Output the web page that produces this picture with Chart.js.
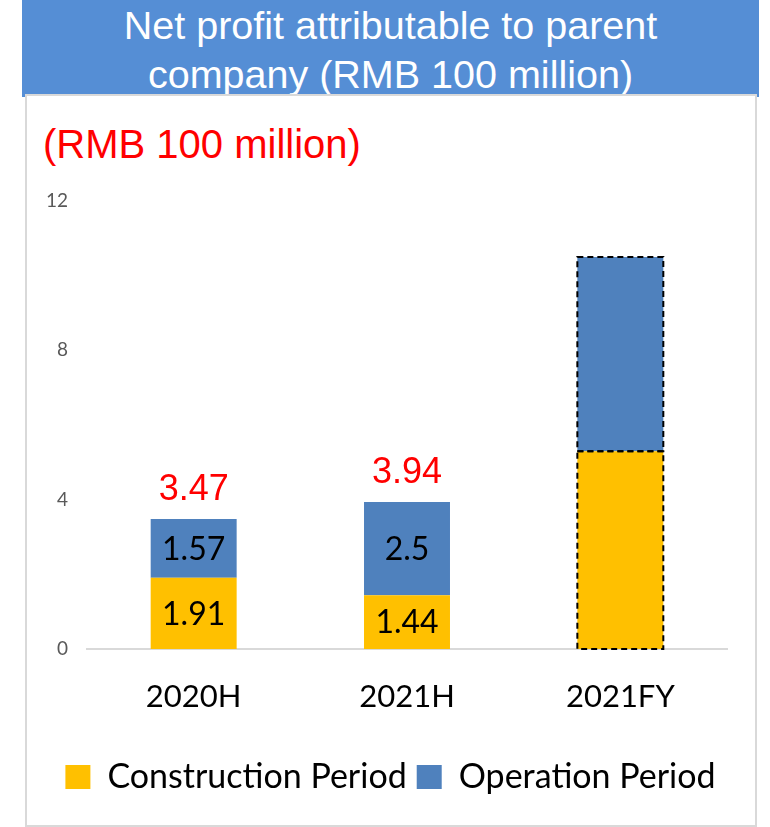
<!DOCTYPE html>
<html>
<head>
<meta charset="utf-8">
<script src="https://cdn.jsdelivr.net/npm/chart.js@4/dist/chart.umd.min.js"></script>
<style>
  html, body { margin: 0; padding: 0; background: #fff; }
  #banner {
    position: absolute; left: 22px; top: 0; width: 737px; height: 97px;
    background: #558ed5; color: #fff; text-align: center;
    font-family: "Liberation Sans", Arial, sans-serif; font-size: 39.5px; line-height: 49px;
    box-sizing: border-box; padding-top: 1px;
  }
  #box {
    position: absolute; left: 25px; top: 94px; width: 728px; height: 729px;
    border: 2px solid #d9d9d9; background: #fff;
  }
  #unit {
    position: absolute; left: 43px; top: 122px;
    font-family: "Liberation Sans", Arial, sans-serif; font-size: 40px; color: #ff0000;
  }
  #c { position: absolute; left: 0; top: 0; }
</style>
</head>
<body>
<div id="banner">Net profit attributable to parent<br>company (RMB 100 million)</div>
<div id="box"></div>
<div id="unit">(RMB 100 million)</div>
<canvas id="c" width="770" height="827"></canvas>
<script>
// values, RMB 100 million
var periods = ['2020H', '2021H', '2021FY'];
var construction = [1.91, 1.44, 5.3];
var operation = [1.57, 2.5, 5.2];
var totals = [3.47, 3.94, null];
var forecastIndex = 2; // 2021FY drawn with dashed outline, no labels

var labelPlugin = {
    id: 'barLabels',
    afterLayout: function (chart) {
        // legend sits a bit right of the plot centre in the original
        chart.legend.left += 17;
        chart.legend.right += 17;
    },
    afterDatasetsDraw: function (chart) {
        var ctx = chart.ctx;
        ctx.save();

        // dashed outline around the forecast stack
        ctx.setLineDash([6, 4]);
        ctx.lineWidth = 2;
        ctx.strokeStyle = '#000';
        chart.data.datasets.forEach(function (ds, di) {
            var bar = chart.getDatasetMeta(di).data[forecastIndex];
            ctx.strokeRect(bar.x - bar.width / 2, bar.y, bar.width, bar.base - bar.y);
        });
        ctx.setLineDash([]);

        // segment values
        ctx.font = '32px Lato';
        ctx.fillStyle = '#000';
        ctx.textAlign = 'center';
        ctx.textBaseline = 'middle';
        chart.data.datasets.forEach(function (ds, di) {
            chart.getDatasetMeta(di).data.forEach(function (bar, i) {
                if (i === forecastIndex) return;
                ctx.fillText(String(ds.data[i]), bar.x, (bar.y + bar.base) / 2 + 1);
            });
        });

        // totals above the stacks
        ctx.font = '36px "Liberation Sans"';
        ctx.fillStyle = '#ff0000';
        ctx.textBaseline = 'alphabetic';
        var topMeta = chart.getDatasetMeta(1);
        totals.forEach(function (t, i) {
            if (t === null) return;
            var bar = topMeta.data[i];
            ctx.fillText(t.toFixed(2), bar.x, bar.y - 19);
        });
        ctx.restore();
    }
};

var ctx = document.getElementById('c');
var chart = new Chart(ctx, {
    type: 'bar',
    data: {
        labels: periods,
        datasets: [
            { label: 'Construction Period', data: construction, backgroundColor: '#ffc000',
              categoryPercentage: 1, barPercentage: 0.403 },
            { label: 'Operation Period', data: operation, backgroundColor: '#4f81bd',
              categoryPercentage: 1, barPercentage: 0.403 }
        ]
    },
    options: {
        responsive: false,
        animation: false,
        devicePixelRatio: 1,
        layout: { padding: { left: 20, right: 43, top: 201, bottom: 23 } },
        plugins: {
            tooltip: { enabled: false },
            legend: {
                position: 'bottom',
                labels: {
                    boxWidth: 25, boxHeight: 24, padding: 10,
                    color: '#000',
                    font: { family: 'Lato', size: 34 }
                }
            }
        },
        scales: {
            x: {
                stacked: true,
                grid: { display: false, drawTicks: false },
                border: { color: '#d9d9d9', width: 2 },
                ticks: { color: '#000', padding: 29, font: { family: 'Lato', size: 31 } },
                afterFit: function (s) { s.height = 101; }
            },
            y: {
                stacked: true,
                min: 0, max: 12,
                grid: { display: false, drawTicks: false },
                border: { display: false },
                ticks: { stepSize: 4, color: '#595959', padding: 19, font: { family: 'Lato', size: 19 } },
                afterFit: function (s) { s.width = 67; }
            }
        }
    },
    plugins: [labelPlugin]
});
</script>
</body>
</html>
